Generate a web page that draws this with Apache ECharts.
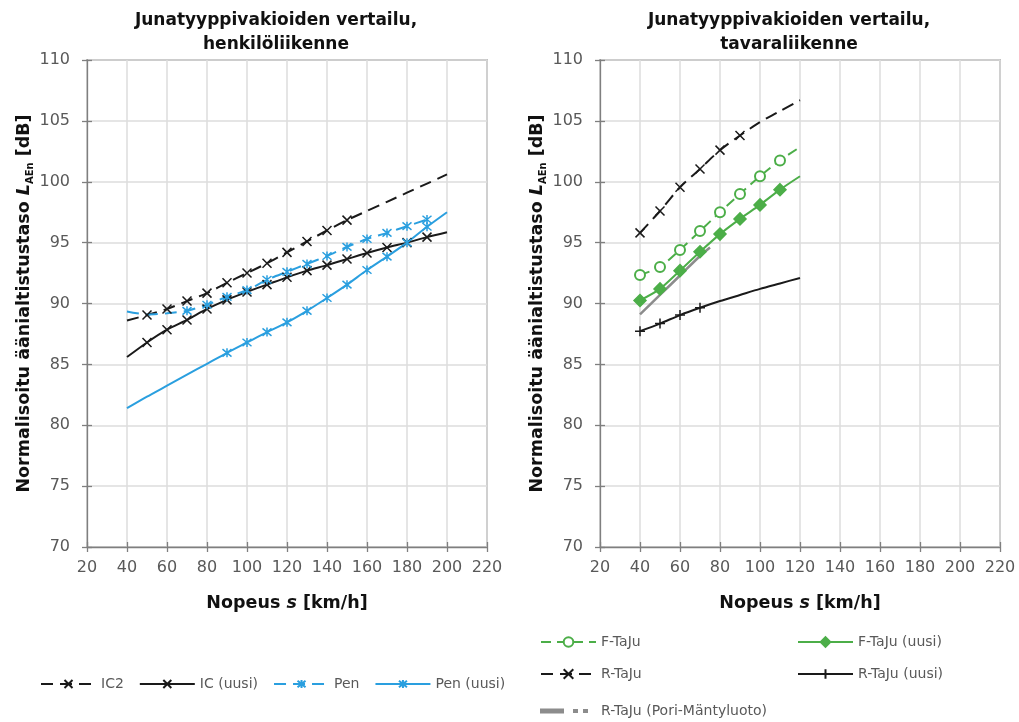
<!DOCTYPE html>
<html>
<head>
<meta charset="utf-8">
<script src="https://cdn.jsdelivr.net/npm/echarts@6/dist/echarts.min.js"></script>
<style>html,body{margin:0;padding:0;background:#fff;}#c{width:1019px;height:722px;}</style>
</head>
<body>
<div id="c"></div>
<script>
// ---- data ----
const speedsL = [40,50,60,70,80,90,100,110,120,130,140,150,160,170,180,190,200];
const ic2 = [88.6,89.05,89.55,90.2,90.85,91.7,92.5,93.3,94.2,95.1,96.0,96.85,97.6,98.35,99.1,99.85,100.6];
const icUusi = [85.6,86.8,87.85,88.65,89.55,90.3,90.95,91.55,92.15,92.7,93.15,93.65,94.15,94.6,95.0,95.45,95.85];
const speedsPen = [40,50,60,70,80,90,100,110,120,130,140,150,160,170,180,190];
const pen = [89.35,89.1,89.2,89.4,89.9,90.55,91.1,91.95,92.6,93.25,93.9,94.65,95.3,95.8,96.35,96.9];
const penUusi = [81.4,82.35,83.25,84.15,85.05,85.95,86.8,87.65,88.45,89.4,90.45,91.55,92.75,93.85,95.0,96.3,97.5];

const speedsR = [40,50,60,70,80,90,100,110,120];
const fTaju = [92.35,93.0,94.4,95.95,97.5,99.0,100.45,101.75,102.85];
const fTajuUusi = [90.25,91.2,92.7,94.25,95.7,96.95,98.1,99.35,100.45];
const rTaju = [95.8,97.6,99.55,101.05,102.6,103.8,104.9,105.8,106.7];
const rTajuUusi = [87.73,88.35,89.05,89.65,90.2,90.7,91.2,91.65,92.1];
const speedsPori = [40,50,60,70,75];
const rTajuPori = [89.1,90.7,92.3,93.9,94.6];

const xTicks = {min:20, max:220, interval:20};
const yTicks = {min:70, max:110, interval:5};

// ---- styling ----
const FF = 'DejaVu Sans';
const BLACK = '#1a1a1a', BLUE = '#2a9fdf', GREEN = '#4cae48', GREY = '#8c8c8c';
const X_SYM = 'path://M0,0L10,10M0,10L10,0';
const AST_SYM = 'path://M0,0L10,10M0,10L10,0M5,-1L5,11';
const PLUS_SYM = 'path://M5,0L5,10M0,5L10,5';
const PORI_ICON = 'path://M0,0L22,0L22,3L0,3Z M33,0.5L36,0.5L36,2.5L33,2.5Z M43,0.5L46,0.5L46,2.5L43,2.5Z';

function pts(speeds, vals, from, to) {
  return speeds.map((s, i) => {
    const d = {value: [s, vals[i]]};
    if (s < from || s > to) d.symbol = 'none';
    return d;
  });
}

const nameRich = {
  b:{fontSize:17.5, fontWeight:'bold', fontFamily:FF, color:'#111', lineHeight:22},
  i:{fontSize:17.5, fontWeight:'bold', fontStyle:'italic', fontFamily:FF, color:'#111', lineHeight:22},
  s:{fontSize:10, fontWeight:'bold', fontFamily:FF, color:'#111', lineHeight:22, verticalAlign:'bottom', padding:[8,0,0,0]}
};

function xAxes(g) {
  return [
    Object.assign({type:'value', gridIndex:g, position:'bottom',
      axisLine:{onZero:false, lineStyle:{color:'#7f7f7f', width:1.3}},
      axisTick:{length:5, lineStyle:{color:'#7f7f7f', width:1.3}},
      axisLabel:{fontSize:16, color:'#595959', margin:13, fontFamily:FF},
      splitLine:{show:true, lineStyle:{color:'#dcdcdc', width:1.5}},
      name:'{b|Nopeus }{i|s}{b| [km/h]}', nameLocation:'middle', nameGap:45,
      nameTextStyle:{rich:nameRich}
    }, xTicks),
    Object.assign({type:'value', gridIndex:g, position:'bottom', offset:0,
      axisLine:{show:false}, axisTick:{inside:true, length:5, lineStyle:{color:'#7f7f7f', width:1.3}},
      axisLabel:{show:false}, splitLine:{show:false}}, xTicks)
  ];
}
function yAxes(g) {
  return [
    Object.assign({type:'value', gridIndex:g, position:'left',
      axisLine:{show:true, onZero:false, lineStyle:{color:'#7f7f7f', width:1.3}},
      axisTick:{show:true, length:5, lineStyle:{color:'#7f7f7f', width:1.3}},
      axisLabel:{fontSize:16, color:'#595959', margin:17, fontFamily:FF},
      splitLine:{show:true, lineStyle:{color:'#dcdcdc', width:1.5}},
      name:'{b|Normalisoitu äänialtistustaso }{i|L}{s|AEn}{b| [dB]}', nameLocation:'middle', nameGap:51, nameRotate:90,
      nameTextStyle:{rich:nameRich}
    }, yTicks),
    Object.assign({type:'value', gridIndex:g, position:'left', offset:0,
      axisLine:{show:false}, axisTick:{show:true, inside:true, length:5, lineStyle:{color:'#7f7f7f', width:1.3}},
      axisLabel:{show:false}, splitLine:{show:false}}, yTicks)
  ];
}

function line(name, data, g, color, opts) {
  return Object.assign({
    name, type:'line', xAxisIndex:g*2, yAxisIndex:g*2, data, smooth:0.25,
    showSymbol:true, symbolSize:9, animation:false,
    lineStyle:{color, width:2},
    itemStyle:{color, borderColor:color, borderWidth:1.5}
  }, opts || {});
}

const legText = {fontFamily:FF, fontSize:14, color:'#595959'};
const chart = echarts.init(document.getElementById('c'), null, {renderer:'canvas'});
chart.setOption({
  animation:false,
  backgroundColor:'#fff',
  title:[
    {text:'Junatyyppivakioiden vertailu,\nhenkilöliikenne', left:271, top:4, textAlign:'center',
     textStyle:{fontFamily:FF, fontSize:17, fontWeight:'bold', color:'#111', lineHeight:24}},
    {text:'Junatyyppivakioiden vertailu,\ntavaraliikenne', left:784, top:4, textAlign:'center',
     textStyle:{fontFamily:FF, fontSize:17, fontWeight:'bold', color:'#111', lineHeight:24}}
  ],
  grid:[
    {left:87, right:532, top:60, bottom:175, show:true, borderColor:'#7f7f7f', borderWidth:1.3, backgroundColor:'transparent'},
    {left:600, right:19, top:60, bottom:175, show:true, borderColor:'#7f7f7f', borderWidth:1.3, backgroundColor:'transparent'}
  ],
  xAxis:[...xAxes(0), ...xAxes(1)],
  yAxis:[...yAxes(0), ...yAxes(1)],
  legend:[
    {data:['IC2','IC (uusi)','Pen','Pen (uusi)'], left:35, top:672, itemWidth:55, itemHeight:10, itemGap:15,
     textStyle:legText},
    {data:['F-TaJu','R-TaJu'], orient:'vertical', left:535, top:630, itemWidth:55, itemHeight:12, itemGap:18,
     textStyle:legText},
    {data:[{name:'R-TaJu (Pori-Mäntyluoto)', icon:PORI_ICON}], left:535, top:699, itemWidth:46, itemHeight:3,
     itemStyle:{color:GREY}, textStyle:Object.assign({padding:[0,0,0,9]}, legText)},
    {data:['F-TaJu (uusi)','R-TaJu (uusi)'], orient:'vertical', left:792, top:630, itemWidth:55, itemHeight:12, itemGap:18,
     textStyle:legText}
  ],
  series:[
    line('IC2', pts(speedsL, ic2, 50, 150), 0, BLACK, {symbol:X_SYM, lineStyle:{color:BLACK, width:2, type:[12,7]}}),
    line('IC (uusi)', pts(speedsL, icUusi, 50, 190), 0, BLACK, {symbol:X_SYM}),
    line('Pen', pts(speedsPen, pen, 70, 190), 0, BLUE, {symbol:AST_SYM, lineStyle:{color:BLUE, width:2, type:[12,7]}}),
    line('Pen (uusi)', pts(speedsL, penUusi, 90, 190), 0, BLUE, {symbol:AST_SYM}),

    line('R-TaJu (Pori-Mäntyluoto)', pts(speedsPori, rTajuPori, 999, 999), 1, GREY, {lineStyle:{color:GREY, width:2.5}, symbol:'none'}),
    line('F-TaJu', pts(speedsR, fTaju, 40, 110), 1, GREEN, {symbol:'circle', symbolSize:10,
      itemStyle:{color:'#fff', borderColor:GREEN, borderWidth:2}, lineStyle:{color:GREEN, width:2, type:[10,6]}}),
    line('F-TaJu (uusi)', pts(speedsR, fTajuUusi, 40, 110), 1, GREEN, {symbol:'diamond', symbolSize:12}),
    line('R-TaJu', pts(speedsR, rTaju, 40, 90), 1, BLACK, {symbol:X_SYM, lineStyle:{color:BLACK, width:2, type:[12,7]}}),
    line('R-TaJu (uusi)', pts(speedsR, rTajuUusi, 40, 70), 1, BLACK, {symbol:PLUS_SYM, symbolSize:10})
  ]
});
</script>
</body>
</html>
